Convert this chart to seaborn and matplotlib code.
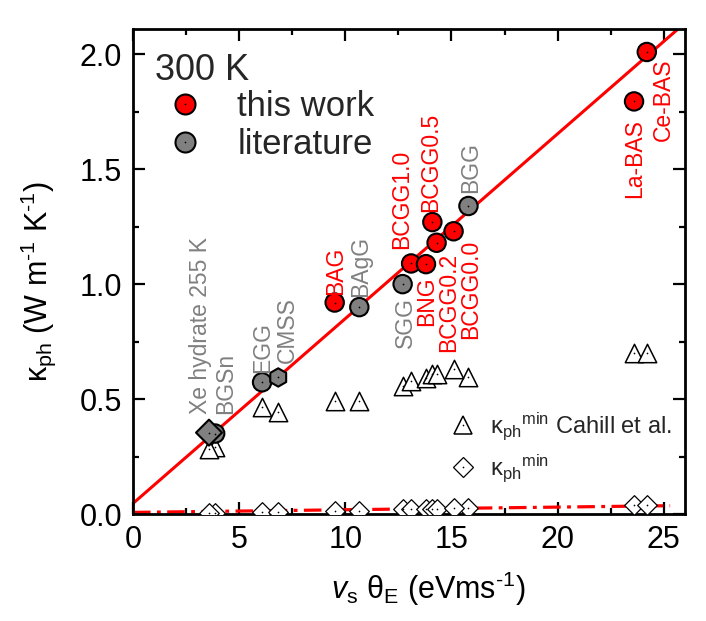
import numpy as np
import pandas as pd
import matplotlib
matplotlib.use("Agg")
import matplotlib.pyplot as plt
from matplotlib.lines import Line2D
from matplotlib.ticker import MultipleLocator, FormatStrFormatter
import seaborn as sns

# compounds at 300 K (literature first so the red points sit on top)
names = ["BGSn", "Xe hydrate 255 K", "EGG", "CMSS", "BAgG", "SGG", "BGG",
         "BAG", "BCGG1.0", "BNG", "BCGG0.5", "BCGG0.2", "BCGG0.0", "La-BAS", "Ce-BAS"]
groups = ["literature"] * 7 + ["this work"] * 8
shapes = ["circle", "diamond", "circle", "hexagon", "circle", "circle", "circle"] + ["circle"] * 8
vs_theta = [3.87, 3.58, 6.08, 6.84, 10.66, 12.7, 15.8,
            9.5, 13.1, 13.8, 14.1, 14.3, 15.1, 23.6, 24.2]
kappa_ph = [0.35, 0.354, 0.573, 0.594, 0.90, 1.00, 1.34,
            0.92, 1.09, 1.087, 1.27, 1.18, 1.23, 1.795, 2.01]
kappa_cahill = [0.29, 0.284, 0.467, 0.445, 0.493, 0.555, 0.598,
                0.49, 0.58, 0.593, 0.607, 0.61, 0.633, 0.70, 0.70]
kappa_min = [0.006, 0.006, 0.01, 0.01, 0.015, 0.02, 0.024,
             0.015, 0.02, 0.022, 0.022, 0.022, 0.024, 0.04, 0.04]

# linear fits drawn in the figure
fit_slope, fit_intercept = 0.0804, 0.046
min_slope, min_intercept = 0.00115, 0.007
min_xmax = 25.3

# label placement: offset in pixels from the point, vertical anchor
label_layout = {
    "BAG": (1, 8, "bottom"), "BAgG": (1, 10, "bottom"), "SGG": (3, -13, "top"),
    "BNG": (1, -12, "top"), "BCGG0.2": (12, -10, "top"), "BCGG0.0": (17, -8, "top"),
    "BCGG1.0": (-9, 14, "bottom"), "BCGG0.5": (-2, 10, "bottom"), "BGG": (2, 13, "bottom"),
    "La-BAS": (1, -18, "top"), "Ce-BAS": (17, -7, "top"), "EGG": (1, 9, "bottom"),
    "CMSS": (9, 14, "bottom"), "Xe hydrate 255 K": (-9, 19, "bottom"), "BGSn": (10, 20, "bottom"),
}

RED = "#ff0000"
GRAY = "#808080"

df = pd.DataFrame({"name": names, "group": groups, "shape": shapes,
                   "x": vs_theta, "k": kappa_ph, "kc": kappa_cahill, "kmin": kappa_min})

sns.set_theme(style="ticks")
plt.rcParams["font.family"] = ["Liberation Sans", "DejaVu Sans"]
plt.rcParams["mathtext.fontset"] = "custom"
plt.rcParams["mathtext.rm"] = "Liberation Sans"
plt.rcParams["mathtext.it"] = "Liberation Sans:italic"
plt.rcParams["mathtext.bf"] = "Liberation Sans:bold"

fig = plt.figure(figsize=(7.06, 6.21), dpi=100)
ax = fig.add_axes([133 / 706, 1 - 514 / 621, 552 / 706, 485 / 621])

# fit lines
xfit = np.array([0, 26])
ax.plot(xfit, fit_intercept + fit_slope * xfit, color=RED, lw=2.2, zorder=2)
xmin_fit = np.array([0, min_xmax])
ax.plot(xmin_fit, min_intercept + min_slope * xmin_fit, color=RED, lw=2.3,
        linestyle=(0, (5.5, 2, 1.2, 2)), zorder=2)

# minimum thermal conductivity models
sns.scatterplot(data=df, x="x", y="kmin", marker="D", s=100, facecolor="white",
                edgecolor="black", linewidth=0.9, ax=ax, zorder=3, legend=False)
sns.scatterplot(data=df, x="x", y="kc", marker="^", s=175, facecolor="white",
                edgecolor="black", linewidth=1.1, ax=ax, zorder=3, legend=False)

# measured kappa_ph
sns.scatterplot(data=df, x="x", y="k", hue="group", style="shape",
                palette={"this work": RED, "literature": GRAY},
                markers={"circle": "o", "diamond": "D", "hexagon": "h"},
                s=175, edgecolor="black", linewidth=1.5, ax=ax, zorder=4, legend=False)

# Origin-style centre dots
for col in ["k", "kc", "kmin"]:
    ax.scatter(df["x"], df[col], s=1.5, color="black", marker="o", linewidths=0, zorder=5)

# labels
for name, grp, x, y in zip(names, groups, vs_theta, kappa_ph):
    dx, dy, va = label_layout[name]
    ax.annotate(name, (x, y), xytext=(dx, dy), textcoords="offset pixels",
                rotation=90, ha="center", va=va, fontsize=16.5,
                color=RED if grp == "this work" else GRAY, zorder=6)

ax.set_xlim(0, 26)
ax.set_ylim(0, 2.11)
ax.xaxis.set_major_locator(MultipleLocator(5))
ax.xaxis.set_minor_locator(MultipleLocator(2.5))
ax.yaxis.set_major_locator(MultipleLocator(0.5))
ax.yaxis.set_minor_locator(MultipleLocator(0.25))
ax.yaxis.set_major_formatter(FormatStrFormatter("%.1f"))
ax.tick_params(which="both", direction="in", top=True, right=True, width=1.6, color="black",
               labelsize=22, labelcolor="black")
ax.tick_params(which="major", length=8.5, pad=8)
ax.tick_params(which="minor", length=4.3)
for sp in ax.spines.values():
    sp.set_linewidth(2.0)
    sp.set_color("black")

ax.set_xlabel(r"$v_\mathrm{s}$ θ$_\mathrm{E}$ (eVms$^{\text{-}1}$)", fontsize=22, color="black")
ax.set_ylabel(r"κ$_\mathrm{ph}$ (W m$^{\text{-}1}$ K$^{\text{-}1}$)", fontsize=22, color="black")
ax.xaxis.set_label_coords(0.535, -0.115)
ax.yaxis.set_label_coords(-0.135, 0.48)

# legends
ax.text(0.04, 0.895, "300 K", transform=ax.transAxes, fontsize=26, va="baseline", ha="left")


def dot_handle(face, marker="o", ms=14.4, mew=1.5):
    h1 = Line2D([], [], ls="none", marker=marker, markersize=ms, markerfacecolor=face,
                markeredgecolor="black", markeredgewidth=mew)
    h2 = Line2D([], [], ls="none", marker="o", markersize=1.2, markerfacecolor="black",
                markeredgewidth=0)
    return (h1, h2)


leg1 = ax.legend([dot_handle(RED), dot_handle(GRAY)], ["this work", "literature"],
                 loc="upper left", bbox_to_anchor=(0.063, 0.874), frameon=False,
                 fontsize=25, handlelength=1.0, handletextpad=1.0, labelspacing=0.15,
                 borderpad=0, borderaxespad=0)
ax.add_artist(leg1)
ax.legend([dot_handle("white", "^", 13, 1.1), dot_handle("white", "D", 9.8, 0.9)],
          [r"κ$_\mathrm{ph}{}^\mathrm{min}$ Cahill et al.", r"κ$_\mathrm{ph}{}^\mathrm{min}$"],
          loc="upper left", bbox_to_anchor=(0.576, 0.214), frameon=False,
          fontsize=17, handlelength=1.0, handletextpad=0.64, labelspacing=0.45,
          borderpad=0, borderaxespad=0)

fig.savefig("out.png", dpi=100)
